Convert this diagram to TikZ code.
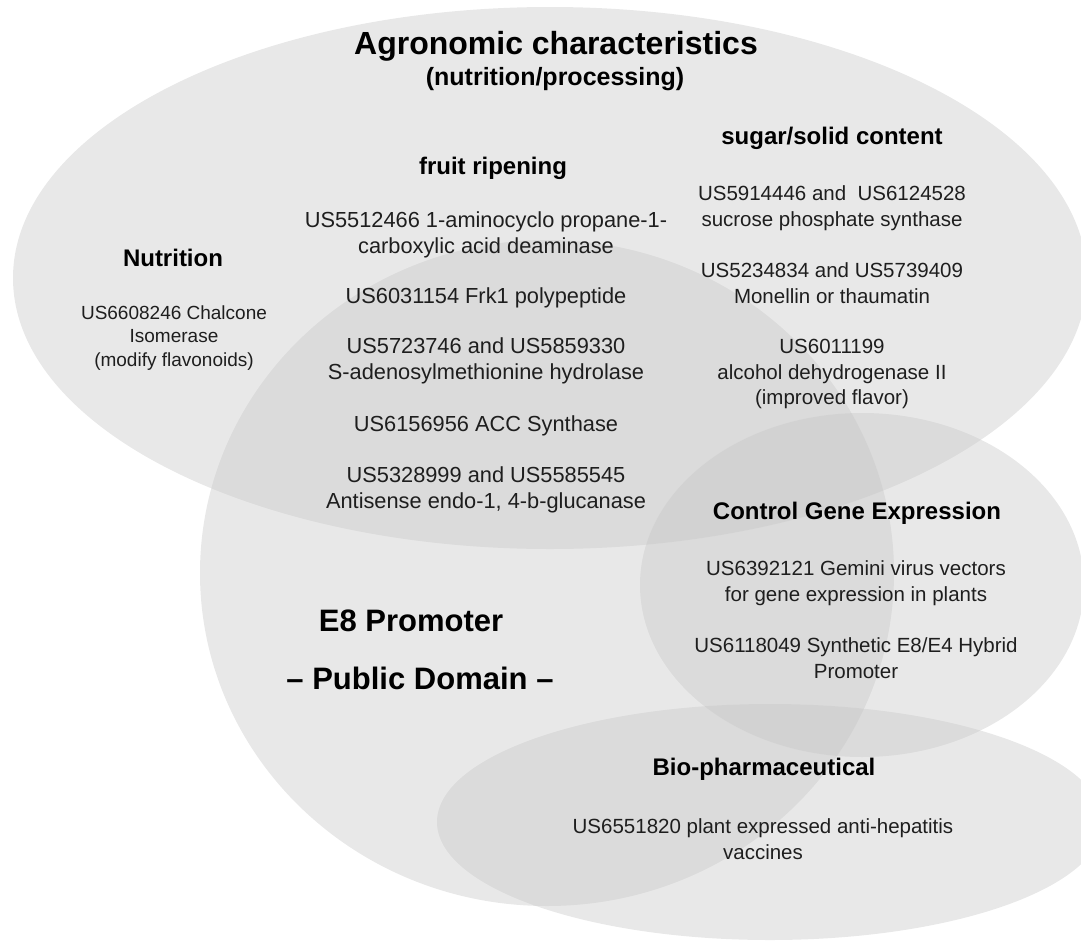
\documentclass[tikz,border=0pt]{standalone}
\usepackage{fontspec}
\setmainfont{Liberation Sans}
\definecolor{shade}{RGB}{198,198,198}
\definecolor{ink}{RGB}{30,30,30}
\begin{document}
\begin{tikzpicture}[x=1pt,y=-1pt,
  region/.style={fill=shade, fill opacity=0.4},
  title/.style={font=\fontsize{32}{38}\selectfont\bfseries, inner sep=0pt},
  subtitle/.style={font=\fontsize{25}{30}\selectfont\bfseries, inner sep=0pt},
  head/.style={font=\fontsize{24}{29}\selectfont\bfseries, inner sep=0pt},
  big/.style={font=\fontsize{31}{37}\selectfont\bfseries, inner sep=0pt},
  body/.style={font=\fontsize{20.5}{25.5}\selectfont, text=ink, align=center, inner sep=0pt},
  widebody/.style={font=\fontsize{21.8}{26.5}\selectfont, text=ink, align=center, inner sep=0pt},
  smallbody/.style={font=\fontsize{19}{23.5}\selectfont, text=ink, align=center, inner sep=0pt}]
\useasboundingbox (0,0) rectangle (1081,945);
\clip (0,0) rectangle (1081,945);

% overlapping translucent regions
\fill[region] (550,278) ellipse [x radius=537pt, y radius=271pt];
\fill[region] (547,573) ellipse [x radius=347pt, y radius=333pt];
\fill[region] (862,585) ellipse [x radius=222pt, y radius=172pt];
\fill[region] (770,822) ellipse [x radius=333pt, y radius=118pt];

% agronomic characteristics
\node[title] (agro) at (556,46) {Agronomic characteristics};
\node[subtitle] (agrosub) at (555,79) {(nutrition/processing)};

% fruit ripening
\node[head] (fruit) at (493,168) {fruit ripening};
\node[widebody] (fr1) at (486,235) {US5512466 1-aminocyclo propane-1-\\carboxylic acid deaminase};
\node[widebody] (fr2) at (486,298) {US6031154 Frk1 polypeptide};
\node[widebody] (fr3) at (486,361) {US5723746 and US5859330\\S-adenosylmethionine hydrolase};
\node[widebody] (fr4) at (486,426) {US6156956 ACC Synthase};
\node[widebody] (fr5) at (486,490) {US5328999 and US5585545\\Antisense endo-1, 4-b-glucanase};

% sugar/solid content
\node[head] (sugar) at (832,138) {sugar/solid content};
\node[body] (su1) at (832,208) {US5914446 and\ \ US6124528\\sucrose phosphate synthase};
\node[body] (su2) at (832,283) {US5234834 and US5739409\\Monellin or thaumatin};
\node[body] (su3) at (832,374) {US6011199\\alcohol dehydrogenase II\\(improved flavor)};

% nutrition
\node[head] (nutr) at (173,258) {Nutrition};
\node[smallbody] (nu1) at (174,338) {US6608246 Chalcone\\Isomerase\\(modify flavonoids)};

% E8 promoter
\node[big] (e8) at (411,621) {E8 Promoter};
\node[big] (pd) at (420,678) {– Public Domain –};

% control gene expression
\node[head] (ctrl) at (857,513) {Control Gene Expression};
\node[body] (ct1) at (856,583) {US6392121 Gemini virus vectors\\for gene expression in plants};
\node[body] (ct2) at (856,658) {US6118049 Synthetic E8/E4 Hybrid\\Promoter};

% bio-pharmaceutical
\node[head] (bio) at (764,769) {Bio-pharmaceutical};
\node[body] (bi1) at (763,839) {US6551820 plant expressed anti-hepatitis\\vaccines};
\end{tikzpicture}
\end{document}
